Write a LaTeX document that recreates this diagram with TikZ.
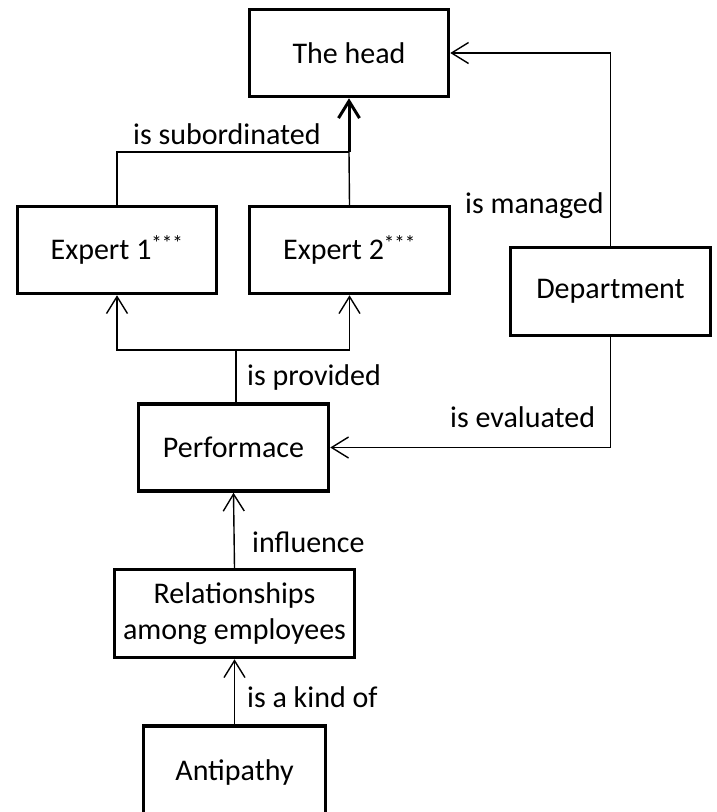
\documentclass[tikz,border=0pt]{standalone}
\usepackage{fontspec}
\setmainfont{Carlito}
\usepackage{tikz}
\usetikzlibrary{positioning,calc,arrows.meta}
\tikzset{>={Straight Barb[length=17pt,width=21pt]}}

\begin{document}
\begin{tikzpicture}[x=1pt,y=-1pt,
  box/.style={draw,line width=3.5pt,minimum height=87pt,inner sep=0pt,align=center},
  lbl/.style={anchor=base west,inner sep=0pt},
  conn/.style={line width=1.4pt}]
\useasboundingbox (0,0) rectangle (716,812);
\fontsize{30}{36}\selectfont
\node[box,minimum width=199pt] (head) at (349,53) {The head};
\node[box,minimum width=199pt] (exp1) at (117,250) {Expert 1\textsuperscript{***}};
\node[box,minimum width=200pt] (exp2) at (349.5,250) {Expert 2\textsuperscript{***}};
\node[box,minimum width=200pt,minimum height=88pt] (dept) at (610.5,291.5) {Department};
\node[box,minimum width=190pt] (perf) at (233.5,447.5) {Performace};
\node[box,minimum width=240pt,minimum height=88pt] (rel) at (234.5,613.5) {Relationships\\among employees};
\node[box,minimum width=182pt,minimum height=92pt] (anti) at (234.5,772) {Antipathy};
% junctions
\coordinate (sub) at (349,152);
\coordinate (split) at (236,350);
% connectors
\draw[conn] (exp1.north) |- (sub);
\draw[conn] (exp2.north) -- (sub);
\draw[line width=3pt,->] (sub) -- (sub |- head.south);
\draw[conn,->] (dept.north) |- (head.east);
\draw[conn,->] (dept.south) |- (perf.east);
\draw[line width=2pt] (split |- perf.north) -- (split);
\draw[conn,->] (split) -| (exp1.south);
\draw[conn,->] (split) -| (exp2.south);
\draw[conn,->] (rel.north) -- (perf.south);
\draw[conn,->] (anti.north) -- (rel.south);
% labels
\node[lbl] (lsub) at (133,144) {is subordinated};
\node[lbl] (lman) at (465,213) {is managed};
\node[lbl] (lpro) at (247,385) {is provided};
\node[lbl] (leva) at (450,427) {is evaluated};
\node[lbl] (linf) at (252,552) {influence};
\node[lbl] (lkind) at (247,707) {is a kind of};
\end{tikzpicture}
\end{document}
